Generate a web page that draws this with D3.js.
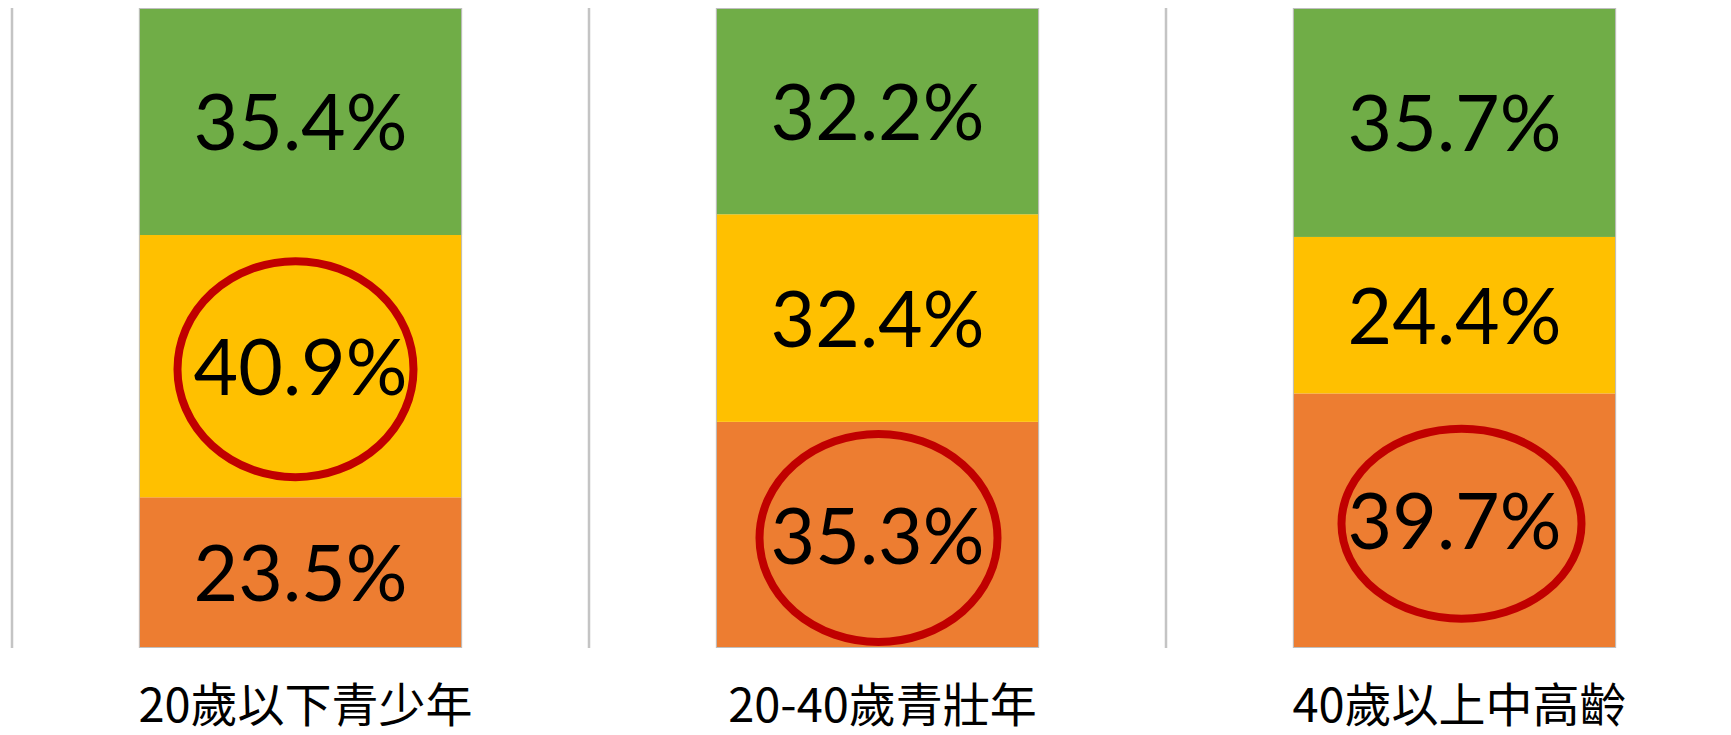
<!DOCTYPE html>
<html>
<head>
<meta charset="utf-8">
<script src="https://cdn.jsdelivr.net/npm/d3@7"></script>
<style>
	body { margin: 0; background: #fff; }
	svg { display: block; }
</style>
</head>
<body>
<svg id="chart"></svg>
<script>
const WIDTH = 1731;
const HEIGHT = 735;

// categories and the three stacked series (bottom to top)
const categories = ["20歲以下青少年", "20-40歲青壯年", "40歲以上中高齡"];
const seriesNames = ["orange", "yellow", "green"];
const orangeValues = [23.5, 35.3, 39.7];
const yellowValues = [40.9, 32.4, 24.4];
const greenValues = [35.4, 32.2, 35.7];
// which series gets the red ring in each category
const highlighted = ["yellow", "orange", "orange"];

const colors = { orange: "#ED7D31", yellow: "#FFC000", green: "#70AD47" };

const svg = d3.select("#chart").attr("width", WIDTH).attr("height", HEIGHT);

const plotLeft = 12;
const plotTop = 8;
const plotBottom = 648;

const xScale = d3.scaleBand(categories, [plotLeft, plotLeft + WIDTH])
	.paddingInner(0.44)
	.paddingOuter(0.22);
const yScale = d3.scaleLinear([0, 1], [plotBottom, plotTop]);

const rows = categories.map((c, i) => {
	const total = orangeValues[i] + yellowValues[i] + greenValues[i];
	return {
		category: c,
		orange: orangeValues[i] / total,
		yellow: yellowValues[i] / total,
		green: greenValues[i] / total,
		raw: { orange: orangeValues[i], yellow: yellowValues[i], green: greenValues[i] },
	};
});

const stacked = d3.stack().keys(seriesNames)(rows);

// divider lines at the start of each category slot
const slotOffset = xScale.step() * xScale.paddingInner() / 2;
svg.selectAll(".divider")
	.data(categories)
	.join("line")
	.classed("divider", true)
	.attr("x1", d => xScale(d) - slotOffset)
	.attr("x2", d => xScale(d) - slotOffset)
	.attr("y1", plotTop)
	.attr("y2", plotBottom)
	.attr("stroke", "#c4c4c4")
	.attr("stroke-width", 2.5);

// stacked segments
const layers = svg.selectAll(".layer")
	.data(stacked)
	.join("g")
	.classed("layer", true)
	.attr("fill", d => colors[d.key]);

layers.selectAll("rect")
	.data(d => d)
	.join("rect")
	.attr("x", d => xScale(d.data.category))
	.attr("width", xScale.bandwidth())
	.attr("y", d => yScale(d[1]))
	.attr("height", d => yScale(d[0]) - yScale(d[1]));

// thin outline around each whole bar
svg.selectAll(".bar-outline")
	.data(categories)
	.join("rect")
	.classed("bar-outline", true)
	.attr("x", d => xScale(d) + 0.5)
	.attr("y", plotTop + 0.5)
	.attr("width", xScale.bandwidth() - 1)
	.attr("height", plotBottom - plotTop - 1)
	.attr("fill", "none")
	.attr("stroke", "#bfbfbf")
	.attr("stroke-width", 1);

// value labels
const labelFont = 77;
layers.selectAll("text")
	.data(d => d.map(p => ({ p, key: d.key })))
	.join("text")
	.attr("x", d => xScale(d.p.data.category) + xScale.bandwidth() / 2)
	.attr("y", d => (yScale(d.p[0]) + yScale(d.p[1])) / 2 + labelFont * 0.36 + 1)
	.attr("text-anchor", "middle")
	.attr("font-family", "Lato, 'Open Sans', sans-serif")
	.attr("font-size", labelFont)
	.attr("fill", "#000")
	.text(d => d.p.data.raw[d.key].toFixed(1) + "%");

// red rings around the highlighted segment
const ringRy = [108, 104, 95];
const ringRx = [118, 119, 120];
const ringDx = [-5, 1, 7];
const ringData = categories.map((c, i) => {
	const layer = stacked.find(s => s.key === highlighted[i]);
	const p = layer[i];
	return { category: c, y0: p[0], y1: p[1], rx: ringRx[i], ry: ringRy[i], dx: ringDx[i] };
});
svg.selectAll(".ring")
	.data(ringData)
	.join("ellipse")
	.classed("ring", true)
	.attr("cx", d => xScale(d.category) + xScale.bandwidth() / 2 + d.dx)
	.attr("cy", d => (yScale(d.y0) + yScale(d.y1)) / 2 + 3)
	.attr("rx", d => d.rx)
	.attr("ry", d => d.ry)
	.attr("fill", "none")
	.attr("stroke", "#C00000")
	.attr("stroke-width", 8);

// category labels
svg.selectAll(".cat-label")
	.data(categories)
	.join("text")
	.classed("cat-label", true)
	.attr("x", d => xScale(d) + xScale.bandwidth() / 2 + 5)
	.attr("y", 722)
	.attr("text-anchor", "middle")
	.attr("font-family", "'Noto Sans CJK TC', 'Noto Sans', sans-serif")
	.attr("font-size", 47)
	.attr("fill", "#000")
	.text(d => d);
</script>
</body>
</html>
